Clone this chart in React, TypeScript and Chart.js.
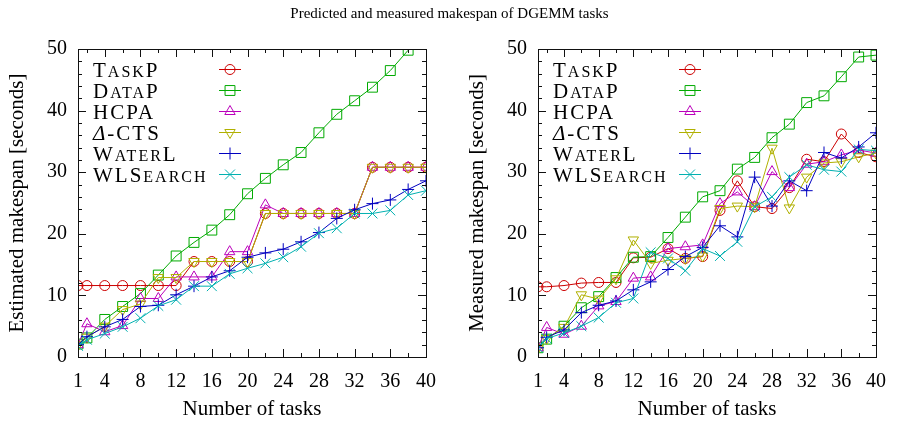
import React, { useEffect, useRef } from 'react';
import { Chart, registerables } from 'chart.js';

Chart.register(...registerables);

const FONT = 'Liberation Serif';

// ---------- data ----------
const taskCounts = [1, 2, 4, 6, 8, 10, 12, 14, 16, 18, 20, 22, 24, 26, 28, 30, 32, 34, 36, 38, 40];
const xTickLabels = [1, 4, 8, 12, 16, 20, 24, 28, 32, 36, 40];
const yTickLabels = [0, 10, 20, 30, 40, 50];
const seriesNames = ['TaskP', 'DataP', 'HCPA', 'Δ-CTS', 'WaterL', 'WLSearch'];
const seriesColors = ['#cc0000', '#00aa00', '#bb00bb', '#b0b000', '#0000c0', '#00b0b0'];
const seriesMarkers = ['circle', 'rect', 'triangle', 'triangleDown', 'cross', 'crossRot'];

const titleText = 'Predicted and measured makespan of DGEMM tasks';
const xTitle = 'Number of tasks';
const leftYTitle = 'Estimated makespan [seconds]';
const rightYTitle = 'Measured makespan [seconds]';

// Estimated makespan (left)
const estTaskP = [11.6, 11.6, 11.6, 11.6, 11.6, 11.6, 11.6, 15.5, 15.5, 15.5, 15.5, 23.3, 23.3, 23.3, 23.3, 23.3, 23.3, 30.8, 30.8, 30.8, 30.8];
const estDataP = [2.1, 3.1, 6.1, 8.2, 10.3, 13.3, 16.4, 18.6, 20.6, 23.1, 26.5, 29.0, 31.2, 33.2, 36.4, 39.4, 41.6, 43.8, 46.5, 49.8, 52.5];
const estHCPA = [2.0, 5.4, 4.1, 5.1, 9.5, 9.5, 13.0, 13.0, 13.0, 17.1, 17.1, 24.7, 23.3, 23.3, 23.3, 23.3, 23.3, 30.8, 30.8, 30.8, 30.8];
const estDeltaCTS = [2.0, 3.2, 5.0, 7.7, 8.6, 12.9, 12.9, 15.5, 15.5, 15.5, 15.5, 23.3, 23.3, 23.3, 23.3, 23.3, 23.3, 30.8, 30.8, 30.8, 30.8];
const estWaterL = [2.0, 3.3, 4.9, 6.1, 8.2, 8.4, 10.1, 11.5, 13.0, 14.0, 16.2, 16.9, 17.5, 18.7, 20.2, 22.5, 23.9, 24.9, 25.5, 27.2, 28.6];
const estWLSearch = [1.8, 2.8, 3.8, 4.9, 6.3, 8.3, 9.3, 11.5, 11.5, 13.5, 14.4, 15.2, 16.2, 17.9, 20.1, 20.9, 23.3, 23.3, 23.8, 26.3, 27.0];

// Measured makespan (right)
const measTaskP = [11.4, 11.4, 11.6, 12.0, 12.1, 12.1, 16.1, 16.2, 17.6, 16.0, 16.3, 23.8, 28.6, 24.4, 24.1, 27.5, 32.1, 31.7, 36.2, 33.2, 32.5];
const measDataP = [1.5, 2.9, 5.0, 8.0, 9.8, 12.9, 16.2, 16.3, 19.4, 22.7, 26.0, 27.0, 30.5, 32.4, 35.6, 37.8, 41.3, 42.4, 45.5, 48.7, 49.0];
const measHCPA = [1.5, 4.8, 3.7, 5.0, 8.3, 9.0, 12.8, 13.0, 17.6, 17.9, 18.2, 24.9, 26.8, 24.4, 30.1, 27.5, 31.3, 31.7, 32.8, 33.6, 33.1];
const measDeltaCTS = [1.5, 3.0, 4.8, 10.1, 9.4, 12.7, 19.0, 15.2, 15.7, 16.0, 16.4, 24.1, 24.5, 24.4, 33.9, 24.2, 29.2, 31.5, 31.7, 32.5, 33.1];
const measWaterL = [1.5, 3.2, 4.4, 7.2, 8.4, 9.1, 10.9, 12.2, 14.2, 16.3, 17.8, 21.3, 19.5, 29.2, 24.5, 28.6, 27.0, 33.2, 32.3, 34.1, 36.4];
const measWLSearch = [1.5, 3.0, 3.9, 5.0, 6.4, 8.8, 9.5, 17.0, 16.0, 14.0, 17.6, 16.4, 18.7, 24.4, 26.0, 29.2, 31.2, 30.4, 30.1, 33.7, 33.5];

const estSeries = [estTaskP, estDataP, estHCPA, estDeltaCTS, estWaterL, estWLSearch];
const measSeries = [measTaskP, measDataP, measHCPA, measDeltaCTS, measWaterL, measWLSearch];

// ---------- drawing helpers ----------
function markerProps(style: string) {
  switch (style) {
    case 'circle': return { pointStyle: 'circle', pointRadius: 5, pointRotation: 0 };
    case 'rect': return { pointStyle: 'rect', pointRadius: 7, pointRotation: 0 };
    case 'triangle': return { pointStyle: 'triangle', pointRadius: 6, pointRotation: 0 };
    case 'triangleDown': return { pointStyle: 'triangle', pointRadius: 6, pointRotation: 180 };
    case 'cross': return { pointStyle: 'cross', pointRadius: 6, pointRotation: 0 };
    default: return { pointStyle: 'crossRot', pointRadius: 7, pointRotation: 0 };
  }
}

function drawMarker(ctx: CanvasRenderingContext2D, style: string, x: number, y: number) {
  const m = markerProps(style);
  const r = m.pointRadius;
  ctx.beginPath();
  if (m.pointStyle === 'circle') {
    ctx.arc(x, y, r, 0, Math.PI * 2);
  } else if (m.pointStyle === 'rect') {
    const s = r * Math.SQRT1_2;
    ctx.rect(x - s, y - s, 2 * s, 2 * s);
  } else if (m.pointStyle === 'triangle') {
    const rad = (m.pointRotation * Math.PI) / 180;
    for (let k = 0; k < 3; k++) {
      const a = rad + (k * 2 * Math.PI) / 3;
      const px = x + Math.sin(a) * r;
      const py = y - Math.cos(a) * r;
      if (k === 0) ctx.moveTo(px, py); else ctx.lineTo(px, py);
    }
    ctx.closePath();
  } else if (m.pointStyle === 'cross') {
    ctx.moveTo(x - r, y); ctx.lineTo(x + r, y);
    ctx.moveTo(x, y - r); ctx.lineTo(x, y + r);
  } else {
    const d = r * Math.SQRT1_2;
    ctx.moveTo(x - d, y - d); ctx.lineTo(x + d, y + d);
    ctx.moveTo(x - d, y + d); ctx.lineTo(x + d, y - d);
  }
  ctx.stroke();
}

// small-caps emulation: lowercase letters are drawn as smaller capitals
function drawSmallCaps(ctx: CanvasRenderingContext2D, text: string, x: number, baseline: number, big: number, small: number, spacing: number) {
  const runs: { t: string; lower: boolean; greek: boolean }[] = [];
  for (const ch of text) {
    const lower = ch !== ch.toUpperCase();
    const greek = /[\u0370-\u03FF]/.test(ch);
    const last = runs[runs.length - 1];
    if (last && last.lower === lower && last.greek === greek) last.t += ch;
    else runs.push({ t: ch, lower, greek });
  }
  let cx = x;
  (ctx as any).letterSpacing = `${spacing}px`;
  for (const run of runs) {
    const size = run.lower ? small : big;
    ctx.font = `${run.greek ? 'italic ' : ''}${size}px "${FONT}"`;
    const glyphs = run.lower ? run.t.toUpperCase() : run.t;
    ctx.fillText(glyphs, cx, baseline);
    cx += ctx.measureText(glyphs).width;
  }
  (ctx as any).letterSpacing = '0px';
}

const legendPlugin = {
  id: 'smallCapsLegend',
  afterDraw(chart: any) {
    const { ctx, chartArea } = chart;
    ctx.save();
    chart.data.datasets.forEach((ds: any, i: number) => {
      const rowY = chartArea.top + 20.5 + i * 21;
      ctx.fillStyle = '#000';
      ctx.textBaseline = 'alphabetic';
      ctx.textAlign = 'left';
      drawSmallCaps(ctx, ds.label, chartArea.left + 15, rowY + 7, 21, 16, 2);
      const mx = chartArea.left + 152;
      ctx.strokeStyle = ds.borderColor;
      ctx.lineWidth = 1;
      ctx.beginPath();
      ctx.moveTo(mx - 11, rowY);
      ctx.lineTo(mx + 11, rowY);
      ctx.stroke();
      drawMarker(ctx, ds.markerKind, mx, rowY);
    });
    ctx.restore();
  },
};

const frameTicksPlugin = {
  id: 'frameTicks',
  afterDatasetsDraw(chart: any) {
    const { ctx, chartArea, scales } = chart;
    const { left, right, top, bottom } = chartArea;
    const xs = scales.x;
    const ys = scales.y;
    const major = 8;
    const minor = 4;
    ctx.save();
    ctx.strokeStyle = '#111';
    ctx.lineWidth = 1;
    ctx.beginPath();
    const xMax = taskCounts[taskCounts.length - 1];
    for (let v = 2; v < xMax; v += 2) {
      const px = Math.round(xs.getPixelForValue(v)) + 0.5;
      const len = xTickLabels.includes(v) ? major : minor;
      ctx.moveTo(px, bottom); ctx.lineTo(px, bottom - len);
      ctx.moveTo(px, top); ctx.lineTo(px, top + len);
    }
    const yMax = yTickLabels[yTickLabels.length - 1];
    for (let v = 2; v < yMax; v += 2) {
      const py = Math.round(ys.getPixelForValue(v)) + 0.5;
      const len = v % 10 === 0 ? major : minor;
      ctx.moveTo(left, py); ctx.lineTo(left + len, py);
      ctx.moveTo(right, py); ctx.lineTo(right - len, py);
    }
    ctx.stroke();
    ctx.strokeRect(Math.round(left) + 0.5, Math.round(top) + 0.5, Math.round(right - left), Math.round(bottom - top));
    ctx.restore();
  },
};

function makeConfig(series: number[][], yTitle: string, yAxisWidth: number, yTitlePad: number, padRight: number): any {
  const tickFont = { family: FONT, size: 20 };
  const titleFont = { family: FONT, size: 21 };
  return {
    type: 'line',
    data: {
      datasets: series.map((vals, i) => {
        const m = markerProps(seriesMarkers[i]);
        return {
          label: seriesNames[i],
          markerKind: seriesMarkers[i],
          data: taskCounts.map((t, k) => ({ x: t, y: vals[k] })),
          borderColor: seriesColors[i],
          backgroundColor: 'rgba(0,0,0,0)',
          pointBackgroundColor: 'rgba(0,0,0,0)',
          pointBorderColor: seriesColors[i],
          pointBorderWidth: 1,
          borderWidth: 1,
          tension: 0,
          order: series.length - i,
          ...m,
        };
      }),
    },
    options: {
      responsive: false,
      animation: false,
      devicePixelRatio: 1,
      layout: { padding: { top: 49, right: padRight, left: 0, bottom: 0 } },
      plugins: { legend: { display: false }, tooltip: { enabled: false }, title: { display: false } },
      scales: {
        x: {
          type: 'linear',
          min: taskCounts[0],
          max: taskCounts[taskCounts.length - 1],
          afterBuildTicks: (s: any) => { s.ticks = xTickLabels.map((v) => ({ value: v })); },
          afterFit: (s: any) => { s.height = 67; },
          ticks: { font: tickFont, color: '#000', padding: 13, maxRotation: 0, autoSkip: false },
          grid: { display: false, drawTicks: false },
          border: { display: false },
          title: { display: true, text: xTitle, font: titleFont, color: '#000', padding: { top: 0, bottom: 2 } },
        },
        y: {
          type: 'linear',
          min: yTickLabels[0],
          max: yTickLabels[yTickLabels.length - 1],
          afterBuildTicks: (s: any) => { s.ticks = yTickLabels.map((v) => ({ value: v })); },
          afterFit: (s: any) => { s.width = yAxisWidth; },
          ticks: { font: tickFont, color: '#000', padding: 11 },
          grid: { display: false, drawTicks: false },
          border: { display: false },
          title: { display: true, text: yTitle, font: titleFont, color: '#000', padding: { top: yTitlePad, bottom: 0 } },
        },
      },
    },
    plugins: [frameTicksPlugin, legendPlugin],
  };
}

export default function App() {
  const leftRef = useRef<HTMLCanvasElement>(null);
  const rightRef = useRef<HTMLCanvasElement>(null);

  useEffect(() => {
    const left = new Chart(leftRef.current as HTMLCanvasElement, makeConfig(estSeries, leftYTitle, 78, 5, 21));
    const right = new Chart(rightRef.current as HTMLCanvasElement, makeConfig(measSeries, rightYTitle, 89, 16, 12));
    return () => { left.destroy(); right.destroy(); };
  }, []);

  return (
    <div style={{ position: 'absolute', left: 0, top: 0, width: 899, height: 424, background: '#fff' }}>
      <canvas ref={leftRef} width={449} height={424} style={{ position: 'absolute', left: 0, top: 0 }} />
      <canvas ref={rightRef} width={450} height={424} style={{ position: 'absolute', left: 449, top: 0 }} />
      <div style={{ position: 'absolute', left: 0, top: 5, width: 899, textAlign: 'center', fontFamily: FONT, fontSize: 15, lineHeight: '17px', color: '#000' }}>
        {titleText}
      </div>
    </div>
  );
}
